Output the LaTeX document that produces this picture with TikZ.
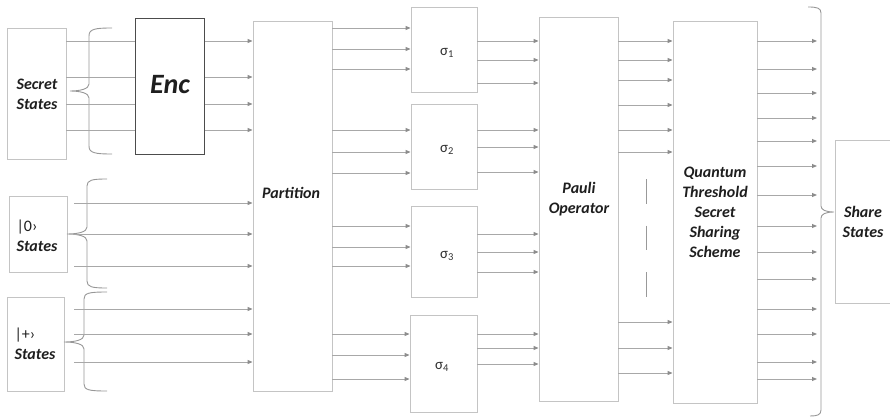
\documentclass[tikz,border=0pt]{standalone}
\usepackage{fontspec}
\setmainfont{Carlito}
\usetikzlibrary{arrows.meta,fit}
\definecolor{boxgray}{HTML}{C4C4C4}
\definecolor{linegray}{HTML}{A8A8A8}
\definecolor{tipgray}{HTML}{8C8C8C}
\definecolor{txt}{HTML}{1E1E1E}
\tikzset{
  box/.style={draw=boxgray, line width=0.9pt, inner sep=0pt, rectangle},
  encbox/.style={draw=black!70, line width=1pt, inner sep=0pt, rectangle},
  ln/.style={draw=linegray, line width=0.9pt},
  arr/.style={ln, -{Triangle[length=5pt,width=4pt,color=tipgray]}},
  bracepath/.style={draw=linegray!90!black, line width=0.9pt},
  lbl/.style={font=\fontsize{16}{20}\selectfont\bfseries\itshape, text=txt, align=center, inner sep=0pt},
  sig/.style={font=\fontsize{15}{18}\selectfont, text=black!80, inner sep=0pt},
}
\begin{document}
\begin{tikzpicture}[x=1pt,y=-1pt]
\useasboundingbox (0,0) rectangle (890,417);
% boxes
\node[box, fit={(7,28) (66,159)}] (SS) {};
\node[encbox, fit={(135,19) (204,154)}] (Enc) {};
\node[box, fit={(9,196) (67,272)}] (Z0) {};
\node[box, fit={(7,297) (64,391)}] (ZP) {};
\node[box, fit={(253,21) (332,391)}] (P) {};
\node[box, fit={(411,7) (477,92)}] (S1) {};
\node[box, fit={(411,104) (477,189)}] (S2) {};
\node[box, fit={(411,206) (477,297)}] (S3) {};
\node[box, fit={(410,315) (477,412)}] (S4) {};
\node[box, fit={(539,17) (618,401)}] (PO) {};
\node[box, fit={(673,21) (757,403)}] (Q) {};
\node[inner sep=0pt, fit={(836,141) (890,303)}] (SH) {};
\draw[draw=boxgray, line width=0.9pt] (SH.north east) -- (SH.north west) -- (SH.south west) -- (SH.south east);
% labels
\node[lbl] (tSS) at (37,94) {Secret\\States};
\node[font=\fontsize{28}{30}\selectfont\bfseries\itshape, text=txt, inner sep=0pt] (tEnc) at (170,85) {Enc};
\node[lbl, align=left] (tZ0) at (37,236) {{\mdseries\upshape |0›}\\States};
\node[lbl, align=left] (tZP) at (35,344) {{\mdseries\upshape |+›}\\States};
\node[lbl] (tP) at (291,193) {Partition};
\node[sig] (t1) at (447,53) {σ\textsubscript{1}};
\node[sig] (t2) at (447,150) {σ\textsubscript{2}};
\node[sig] (t3) at (447,256) {σ\textsubscript{3}};
\node[sig] (t4) at (442,367) {σ\textsubscript{4}};
\node[lbl] (tPO) at (579,199) {Pauli\\Operator};
\node[lbl] (tQ) at (715,212) {Quantum\\Threshold\\Secret\\Sharing\\Scheme};
\node[lbl] (tSH) at (863,222) {Share\\States};
% braces
\draw[bracepath] (112,28) .. controls (95,28) and (89,29) .. (89,36) -- (89,84) .. controls (89,89) and (80,91) .. (70,91) .. controls (80,91) and (89,93) .. (89,98) -- (89,146) .. controls (89,153) and (95,154) .. (112,154);
\draw[bracepath] (107,179) .. controls (92,179) and (87,180) .. (87,186) -- (87,227) .. controls (87,232) and (78,234) .. (67,234) .. controls (78,234) and (87,236) .. (87,241) -- (87,281) .. controls (87,287) and (92,288) .. (107,288);
\draw[bracepath] (107,292) .. controls (89,292) and (84,293) .. (84,299) -- (84,335) .. controls (84,340) and (75,342) .. (64,342) .. controls (75,342) and (84,344) .. (84,349) -- (84,384) .. controls (84,390) and (89,391) .. (107,391);
\draw[bracepath] (808,7) .. controls (817,7) and (821,8) .. (821,13) -- (821,206) .. controls (821,210) and (826,212) .. (834,212) .. controls (826,212) and (821,214) .. (821,218) -- (821,410) .. controls (821,415) and (817,416) .. (810,416);
% connectors
\coordinate (zin) at (74,0);
\coordinate (qout) at (817,0);
\foreach \y in {41,77,104,130} {
  \draw[ln] (SS.east |- 0,\y) -- (Enc.west |- 0,\y);
  \draw[arr] (Enc.east |- 0,\y) -- (P.west |- 0,\y);
}
\foreach \y in {203,234,266,309,334,362} \draw[arr] (zin |- 0,\y) -- (P.west |- 0,\y);
\foreach \y in {28,49,69} \draw[arr] (P.east |- 0,\y) -- (S1.west |- 0,\y);
\foreach \y in {130,152,173} \draw[arr] (P.east |- 0,\y) -- (S2.west |- 0,\y);
\foreach \y in {226,247,266} \draw[arr] (P.east |- 0,\y) -- (S3.west |- 0,\y);
\foreach \y in {334,355,379} \draw[arr] (P.east |- 0,\y) -- (S4.west |- 0,\y);
\foreach \y in {41,60,83} \draw[arr] (S1.east |- 0,\y) -- (PO.west |- 0,\y);
\foreach \y in {130,147,172} \draw[arr] (S2.east |- 0,\y) -- (PO.west |- 0,\y);
\foreach \y in {234,252,272} \draw[arr] (S3.east |- 0,\y) -- (PO.west |- 0,\y);
\foreach \y in {334,348,364} \draw[arr] (S4.east |- 0,\y) -- (PO.west |- 0,\y);
\foreach \y in {41,60,80,105,130,152,322,348,373} \draw[arr] (PO.east |- 0,\y) -- (Q.west |- 0,\y);
\foreach \y in {41,69,93,118,141,166,195,226,252,279,309,334,362,379} \draw[arr] (Q.east |- 0,\y) -- (qout |- 0,\y);
% dashed ellipsis line
\draw[ln, draw=black!40, dash pattern=on 24.5pt off 22pt] (646,179) -- (646,297);
\end{tikzpicture}
\end{document}
